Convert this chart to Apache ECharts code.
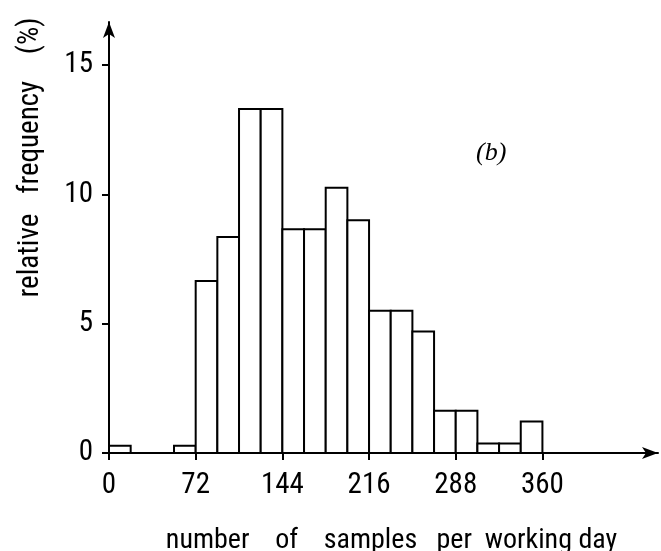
<!DOCTYPE html>
<html>
<head>
<meta charset="utf-8">
<script src="https://cdn.jsdelivr.net/npm/echarts@6/dist/echarts.min.js"></script>
<style>
  html, body { margin: 0; padding: 0; background: #fff; }
  #chart { width: 661px; height: 551px; }
</style>
</head>
<body>
<div id="chart"></div>
<script>
// bin edges (samples per working day), bins 18 wide
const binStart = [0, 54, 72, 90, 108, 126, 144, 162, 180, 198, 216, 234, 252, 270, 288, 306, 324, 342]
const binWidth = 18
// relative frequency (%) for each bin
const freq = [0.28, 0.28, 6.65, 8.35, 13.3, 13.3, 8.65, 8.65, 10.25, 9.0, 5.5, 5.5, 4.7, 1.63, 1.63, 0.37, 0.37, 1.22]
const xTicks = [0, 72, 144, 216, 288, 360]
const yTicks = [0, 5, 10, 15]

const font = "'Roboto Condensed', 'DejaVu Sans Condensed', sans-serif"

const chart = echarts.init(document.getElementById('chart'))

const bars = binStart.map((s, i) => [s, s + binWidth, freq[i]])

const option = {
  animation: false,
  backgroundColor: '#fff',
  grid: { left: 109, right: 3, top: 22, bottom: 98, containLabel: false, outerBoundsMode: 'none' },
  xAxis: {
    type: 'value',
    min: 0,
    max: 456,
    name: 'number    of    samples   per  working day',
    nameLocation: 'middle',
    nameGap: 74,
    nameTextStyle: { fontFamily: font, fontSize: 28, color: '#000', padding: [0, 0, 0, 16] },
    axisLine: {
      show: true,
      symbol: ['none', 'arrow'],
      symbolSize: [9, 16],
      lineStyle: { color: '#000', width: 2 }
    },
    axisTick: {
      show: true,
      length: 7,
      customValues: xTicks,
      lineStyle: { color: '#000', width: 2 }
    },
    axisLabel: {
      customValues: xTicks,
      margin: 18,
      fontFamily: font,
      fontSize: 29,
      color: '#000'
    },
    splitLine: { show: false }
  },
  yAxis: {
    type: 'value',
    min: 0,
    max: 16.66,
    name: 'relative   frequency    (%)',
    nameLocation: 'middle',
    nameGap: 64,
    nameRotate: 90,
    nameTextStyle: { fontFamily: font, fontSize: 29, color: '#000', padding: [0, 0, 0, 160] },
    axisLine: {
      show: true,
      symbol: ['none', 'arrow'],
      symbolSize: [9, 16],
      lineStyle: { color: '#000', width: 2 }
    },
    axisTick: {
      show: true,
      length: 7,
      customValues: yTicks,
      lineStyle: { color: '#000', width: 2 }
    },
    axisLabel: {
      customValues: yTicks,
      margin: 16,
      fontFamily: font,
      fontSize: 29,
      color: '#000'
    },
    splitLine: { show: false }
  },
  graphic: [
    {
      type: 'text',
      left: 476,
      top: 140,
      style: {
        text: '(b)',
        fontFamily: "'Liberation Serif', serif",
        fontStyle: 'italic',
        fontSize: 26,
        fill: '#000'
      }
    }
  ],
  series: [
    {
      type: 'custom',
      data: bars,
      encode: { x: [0, 1], y: 2 },
      renderItem: function (params, api) {
        const p0 = api.coord([api.value(0), api.value(2)])
        const p1 = api.coord([api.value(1), 0])
        return {
          type: 'rect',
          shape: { x: p0[0], y: p0[1], width: p1[0] - p0[0], height: p1[1] - p0[1] },
          style: { fill: '#fff', stroke: '#000', lineWidth: 2 }
        }
      }
    }
  ]
}

chart.setOption(option)
</script>
</body>
</html>
